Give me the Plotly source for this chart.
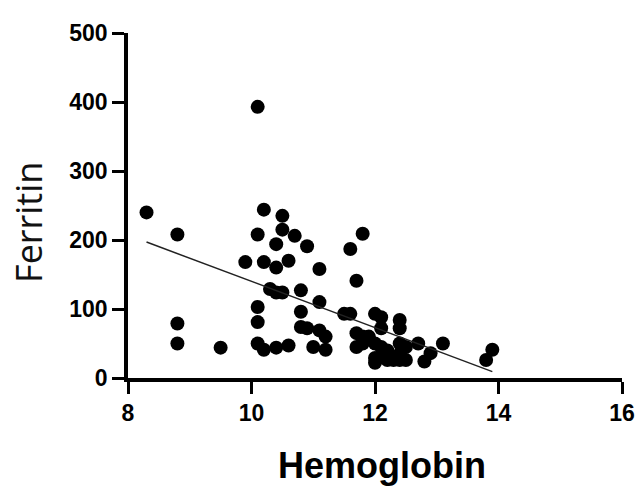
import numpy as np
import plotly.graph_objects as go

# Hemoglobin (g/dL) vs Ferritin (ng/mL)
hemoglobin = [
    8.3, 8.8, 8.8, 8.8, 9.5,
    10.1, 10.2, 10.1, 9.9, 10.2, 10.4, 10.5, 10.5, 10.7, 10.9,
    10.4, 10.6, 10.3, 10.4, 10.5, 10.8, 10.1, 10.1, 10.8, 10.8,
    10.9, 11.1, 11.1, 10.1, 10.2, 10.4, 10.6, 11.0, 11.1, 11.2,
    11.2, 11.5, 11.6, 11.6, 11.8, 11.7, 11.7, 11.7, 11.8, 11.9,
    12.0, 12.1, 12.1, 12.0, 12.1, 12.0, 12.0, 12.2, 12.3, 12.4,
    12.4, 12.4, 12.5, 12.4, 12.5, 12.7, 12.8, 12.9, 13.1, 13.8,
    13.9, 11.8, 12.1, 12.4, 12.2,
]
ferritin = [
    240, 208, 79, 50, 44,
    393, 244, 208, 168, 168, 194, 235, 215, 206, 191,
    160, 170, 129, 124, 124, 127, 103, 81, 96, 74,
    72, 110, 158, 50, 41, 44, 47, 45, 69, 60,
    41, 93, 93, 187, 209, 141, 65, 45, 60, 60,
    93, 88, 72, 50, 45, 29, 22, 26, 26, 84,
    72, 50, 45, 26, 26, 50, 24, 36, 50, 26,
    41, 50, 30, 35, 40,
]

x_ticks = [8, 10, 12, 14, 16]
y_ticks = [0, 100, 200, 300, 400, 500]

# Linear regression line across the data range
slope, intercept = np.polyfit(hemoglobin, ferritin, 1)
fit_x = np.array([min(hemoglobin), max(hemoglobin)])
fit_y = slope * fit_x + intercept

fig = go.Figure()

fig.add_trace(
    go.Scatter(
        x=hemoglobin,
        y=ferritin,
        mode="markers",
        marker=dict(color="black", size=14, line=dict(width=0)),
        showlegend=False,
    )
)
fig.add_trace(
    go.Scatter(
        x=fit_x,
        y=fit_y,
        mode="lines",
        line=dict(color="#222222", width=1.5),
        showlegend=False,
    )
)

axis_style = dict(
    showgrid=False,
    zeroline=False,
    showline=True,
    linecolor="black",
    linewidth=3.5,
    ticks="outside",
    ticklen=12,
    tickwidth=3,
    tickcolor="black",
    tickfont=dict(family="Liberation Sans", size=23, color="black", weight="bold"),
)

fig.update_layout(
    width=640,
    height=490,
    margin=dict(l=128, r=18, t=33, b=112),
    plot_bgcolor="white",
    paper_bgcolor="white",
    xaxis=dict(range=[8, 16], tickvals=x_ticks, automargin=False, **axis_style),
    yaxis=dict(range=[0, 500], tickvals=y_ticks, automargin=False, **axis_style),
    annotations=[
        # axis titles placed as annotations to match their offset positions
        dict(
            text="Ferritin",
            textangle=-90,
            xref="paper", yref="paper",
            x=-0.2, y=0.45,
            xanchor="center", yanchor="middle",
            showarrow=False,
            font=dict(family="Open Sans", size=36, color="#111111"),
        ),
        dict(
            text="Hemoglobin",
            xref="paper", yref="paper",
            x=0.514, y=-0.255,
            xanchor="center", yanchor="middle",
            showarrow=False,
            font=dict(family="Liberation Sans", size=36, color="black", weight="bold"),
        ),
    ],
)

# drop the default 8px body margin so the 640x490 figure fills the window
fig.write_html(
    "out.html",
    config={"displayModeBar": False},
    post_script="document.body.style.margin = '0';",
)
